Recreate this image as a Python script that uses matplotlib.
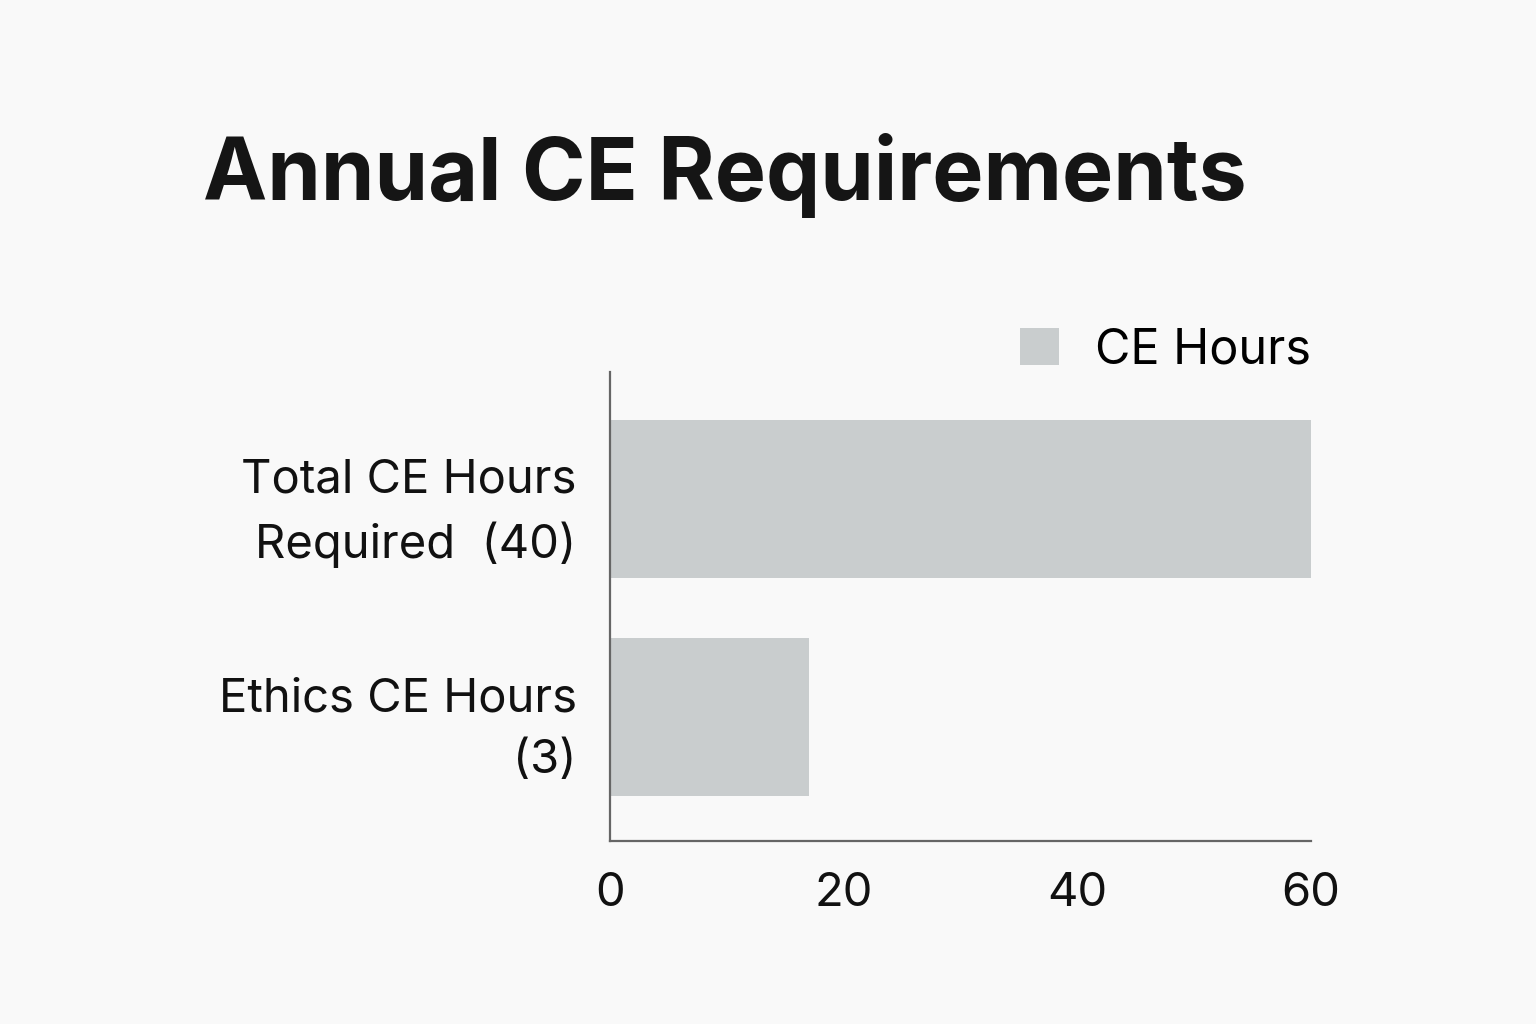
import matplotlib.pyplot as plt

# Data
categories = ['Ethics CE Hours\n(3)', 'Total CE Hours\nRequired  (40)']
ce_hours = [17, 60]
x_ticks = [0, 20, 40, 60]
series_name = 'CE Hours'

bg = '#f9f9f9'
bar_color = '#c9cdce'
plt.rcParams['font.family'] = ['Inter', 'DejaVu Sans']

fig = plt.figure(figsize=(15.36, 10.24), dpi=100, facecolor=bg)
ax = fig.add_axes([610 / 1536, 183 / 1024, 701 / 1536, 469 / 1024], facecolor=bg)

ax.barh(range(len(categories)), ce_hours, height=0.725, color=bar_color, label=series_name)

ax.set_xlim(0, 60)
ax.set_ylim(-0.569, 1.583)
ax.set_xticks(x_ticks)
ax.set_yticks(range(len(categories)))
ax.set_yticklabels(categories, ha='right', linespacing=1.5)
ax.tick_params(axis='both', length=0, labelsize=34, colors='#111111')
ax.tick_params(axis='y', pad=24)
ax.tick_params(axis='x', pad=22)

for side in ['top', 'right']:
    ax.spines[side].set_visible(False)
for side in ['left', 'bottom']:
    ax.spines[side].set_color('#666666')
    ax.spines[side].set_linewidth(1.6)

fig.legend(loc='center right', bbox_to_anchor=(1311 / 1536, 1 - 350 / 1024),
           frameon=False, fontsize=35, handlelength=0.8, handleheight=0.8,
           handletextpad=0.75, borderpad=0, borderaxespad=0)

fig.text(203 / 1536, 1 - 200 / 1024, 'Annual CE Requirements', fontsize=62,
         fontweight='bold', color='#151515', ha='left', va='baseline')

fig.savefig('out.png', dpi=100, facecolor=bg)
